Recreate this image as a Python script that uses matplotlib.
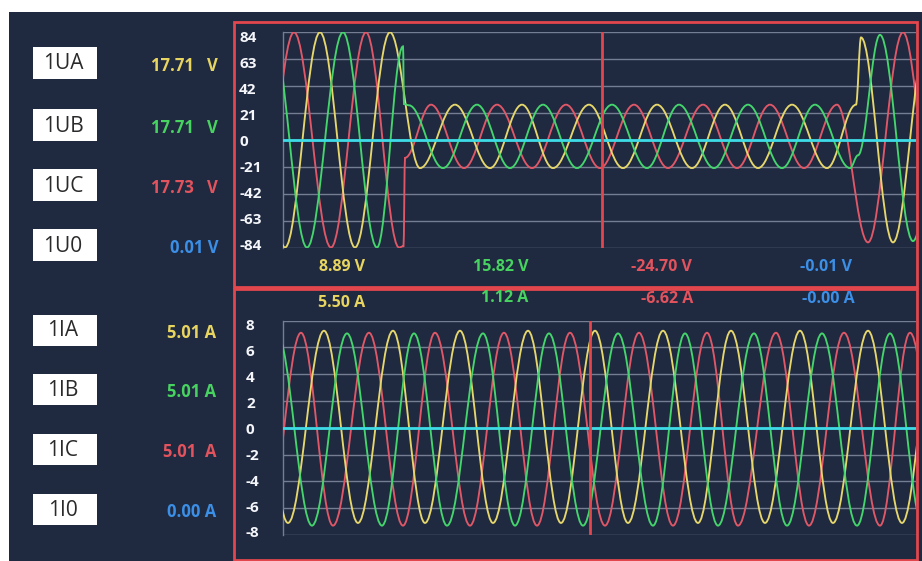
import matplotlib
matplotlib.use("Agg")
import matplotlib.pyplot as plt
from matplotlib.patches import Rectangle, PathPatch
from matplotlib.path import Path
import matplotlib.transforms as mtransforms

plt.rcParams['font.family'] = ['Open Sans', 'DejaVu Sans']

# channel list on the left
volt_names = ["1UA", "1UB", "1UC", "1U0"]
volt_values = ["17.71   V", "17.71   V", "17.73   V", "0.01 V"]
curr_names = ["1IA", "1IB", "1IC", "1I0"]
curr_values = ["5.01 A", "5.01 A", "5.01  A", "0.00 A"]

# readings at the cursor
volt_cursor = ["8.89 V", "15.82 V", "-24.70 V", "-0.01 V"]
curr_cursor = ["5.50 A", "1.12 A", "-6.62 A", "-0.00 A"]

volt_ticks = [84, 63, 42, 21, 0, -21, -42, -63, -84]
curr_ticks = [8, 6, 4, 2, 0, -2, -4, -6, -8]

# cursor sample index
volt_cursor_x = 319
curr_cursor_x = 307

# voltage traces: turning points (sample index, value)
ua_x = [-33, 2, 37, 72, 107, 137, 172, 207, 239, 270, 306, 340, 374, 409, 442,
        475, 509, 544, 573, 578, 610, 644]
ua_y = [84, -84, 84, -84, 84, -22, 27.5, -22, 27.5, -22, 27.5, -22, 27.5, -22,
        27.5, -22, 27.5, -22, 27.5, 80, -80, 80]
ub_x = [-11, 24, 60, 94, 120, 121, 126, 160, 194, 227, 260, 294, 329, 364, 396,
        431, 465, 499, 532, 567, 575, 597, 630, 664]
ub_y = [84, -84, 84, -84, 73, 28, 27, -22, 27.5, -22, 27.5, -22, 27.5, -22, 27.5,
        -22, 27.5, -22, 27.5, -22, -12, 82, -79, 80]
uc_x = [-25, 11, 48, 83, 116, 120.5, 122, 148, 181, 214, 249, 283, 317, 351, 385,
        420, 454, 487, 521, 554, 585, 620, 654]
uc_y = [-84, 84, -84, 84, -84, -83, -14, 27.5, -22, 27.5, -22, 27.5, -22, 27.5,
        -22, 27.5, -22, 27.5, -22, 27.5, -80, 84, -80]
u0_x = [0, 633]
u0_y = [0, 0]

# current traces
ia_x = [-29, 5, 41, 75, 110, 142, 177, 210, 245, 278, 312, 345, 380, 415, 448,
        482, 517, 550, 585, 619, 653]
ia_y = [7.25, -7.1, 7.25, -7.1, 7.25, -7.1, 7.25, -7.1, 7.25, -7.1, 7.25, -7.1,
        7.25, -7.1, 7.25, -7.1, 7.25, -7.1, 7.25, -7.1, 7.25]
ib_x = [-6, 29, 64, 99, 131, 164, 200, 232, 266, 300, 335, 370, 402, 435, 471,
        504, 539, 574, 607, 640]
ib_y = [7.05, -7.3, 7.05, -7.3, 7.05, -7.3, 7.05, -7.3, 7.05, -7.3, 7.05, -7.3,
        7.05, -7.3, 7.05, -7.3, 7.05, -7.3, 7.05, -7.3]
ic_x = [-16, 18, 50, 86, 120, 152, 187, 221, 254, 287, 322, 356, 390, 424, 455,
        493, 526, 561, 597, 627, 661]
ic_y = [-7.3, 7.1, -7.3, 7.1, -7.3, 7.1, -7.3, 7.1, -7.3, 7.1, -7.3, 7.1, -7.3,
        7.1, -7.3, 7.1, -7.3, 7.1, -7.3, 7.1, -7.3]
i0_x = [0, 633]
i0_y = [0, 0]

BG = "#1f2940"
GRID = "#747d92"
RED_BOX = "#e3474d"
YEL, GRN, RED, BLU = "#e8d560", "#47d35f", "#e2535d", "#3b8fe6"
LINE_COL = {"A": "#e6d76c", "B": "#44d66c", "C": "#e05868", "0": "#3cdbe6"}

W, H = 922, 561
fig = plt.figure(figsize=(W / 100, H / 100), dpi=100, facecolor="white")


def fx(px):
    return px / W


def fy(py):
    return 1 - py / H


def trace_path(xs, ys):
    # smooth curve through the turning points (horizontal tangents at each one)
    verts = [(xs[0], ys[0])]
    codes = [Path.MOVETO]
    for x0, y0, x1, y1 in zip(xs[:-1], ys[:-1], xs[1:], ys[1:]):
        d = (x1 - x0) * 0.3634
        verts += [(x0 + d, y0), (x1 - d, y1), (x1, y1)]
        codes += [Path.CURVE4] * 3
    return Path(verts, codes)


# dark screen
fig.patches.append(Rectangle((fx(9), 0), 1 - fx(9), fy(12), transform=fig.transFigure,
                             facecolor=BG, edgecolor="none", zorder=-5))
# red frames
for top, bot in [(22, 287), (289, 560)]:
    fig.patches.append(Rectangle((fx(234), fy(bot)), fx(917) - fx(234), fy(top) - fy(bot),
                                 transform=fig.transFigure, facecolor="none",
                                 edgecolor=RED_BOX, lw=2, zorder=-4))

# channel boxes and values
name_rows = [63, 125, 185, 245, 330, 389, 449, 509]
names = volt_names + curr_names
values = volt_values + curr_values
val_cols = [YEL, GRN, RED, BLU, YEL, GRN, RED, BLU]
for i, (nm, val) in enumerate(zip(names, values)):
    yc = name_rows[i]
    fig.patches.append(Rectangle((fx(33), fy(yc + 15.5)), fx(97) - fx(33), 31 / H,
                                 transform=fig.transFigure, facecolor="white",
                                 edgecolor="none", zorder=-3))
    fig.text(fx(63), fy(yc + 1), nm, ha="center", va="center", fontsize=15,
             color="#2a2a2a")
    xr = 218 if i < 4 else 216
    fig.text(fx(xr), fy(yc + 3), val, ha="right", va="center", fontsize=12,
             fontweight="bold", color=val_cols[i])

# cursor readings
for lab, xc, col in zip(volt_cursor, [342, 501, 661, 826], [YEL, GRN, RED, BLU]):
    fig.text(fx(xc), fy(267), lab, ha="center", va="center", fontsize=11.5,
             fontweight="bold", color=col)
for lab, xc, yc, col in zip(curr_cursor, [342, 505, 667, 828], [303, 298, 299, 299],
                            [YEL, GRN, RED, BLU]):
    fig.text(fx(xc), fy(yc), lab, ha="center", va="center", fontsize=11.5,
             fontweight="bold", color=col)


def make_axes(rect, ticks, lim, label_px, traces, cursor_x):
    ax = fig.add_axes(rect)
    ax.set_facecolor("none")
    ax.set_xlim(0, 633)
    ax.set_ylim(-lim, lim)
    for s in ["top", "right", "bottom"]:
        ax.spines[s].set_visible(False)
    ax.spines["left"].set_color(GRID)
    ax.spines["left"].set_linewidth(1)
    ax.set_xticks([])
    ax.set_yticks(ticks)
    ax.tick_params(axis="y", length=0, labelleft=False)
    ax.grid(axis="y", color=GRID, lw=1)
    ax.set_axisbelow(True)
    trans = mtransforms.blended_transform_factory(fig.transFigure, ax.transData)
    for t in ticks:
        ax.text(fx(label_px), t * 0.968 - lim * 0.018, str(t), transform=trans,
                ha="left", va="center", fontsize=11, fontweight="bold",
                color="#f4f6fa", clip_on=False)
    for (xs, ys, key) in traces:
        if key == "0":
            ax.plot(xs, ys, color=LINE_COL[key], lw=2, zorder=4)
        else:
            ax.add_patch(PathPatch(trace_path(xs, ys), facecolor="none",
                                   edgecolor=LINE_COL[key], lw=1.35, zorder=3))
    ax.axvline(cursor_x, color=RED_BOX, lw=2, zorder=5)
    return ax


make_axes([fx(283), fy(247.5), 633 / W, 215.2 / H], volt_ticks, 84, 239,
          [(uc_x, uc_y, "C"), (ua_x, ua_y, "A"), (ub_x, ub_y, "B"), (u0_x, u0_y, "0")],
          volt_cursor_x)
make_axes([fx(283), fy(535), 633 / W, 214.3 / H], curr_ticks, 8, 246,
          [(ic_x, ic_y, "C"), (ia_x, ia_y, "A"), (ib_x, ib_y, "B"), (i0_x, i0_y, "0")],
          curr_cursor_x)

fig.savefig("out.png", dpi=100, facecolor="white")
